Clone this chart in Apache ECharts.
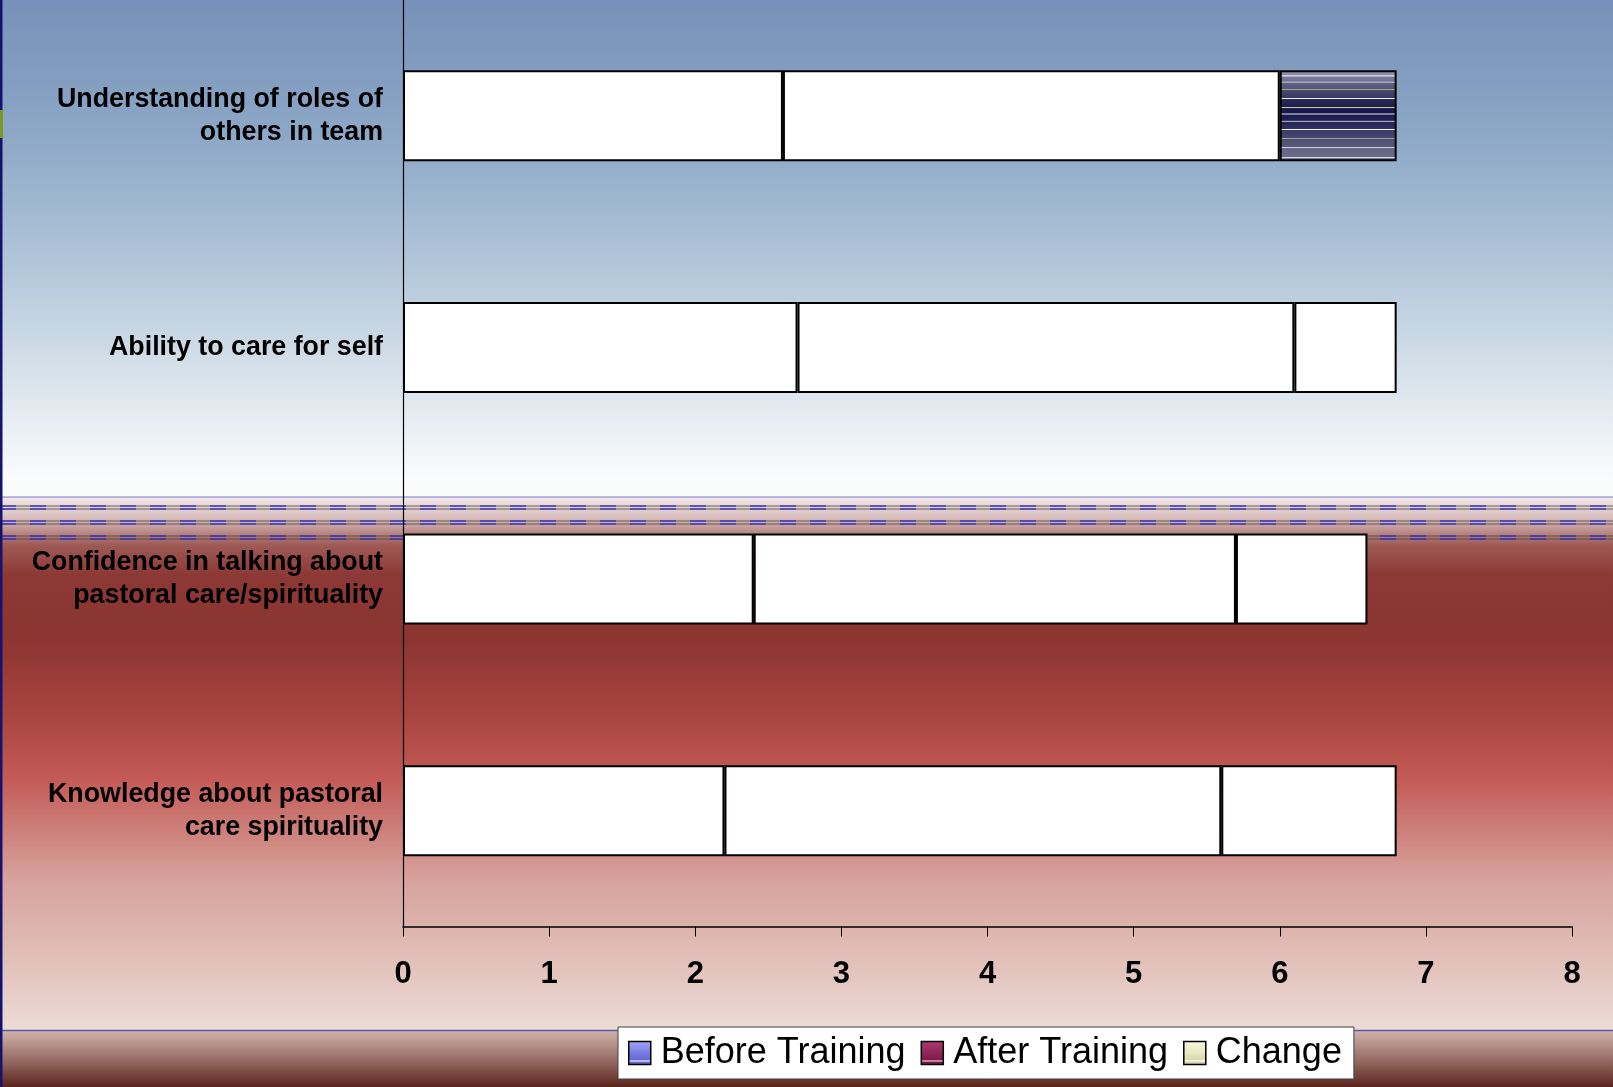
<!DOCTYPE html>
<html>
<head>
<meta charset="utf-8">
<title>Training outcomes</title>
<script src="https://cdn.jsdelivr.net/npm/echarts@6/dist/echarts.min.js"></script>
<style>
  html, body { margin: 0; padding: 0; background: #ffffff; }
  #chart { width: 1613px; height: 1087px; }
</style>
</head>
<body>
<div id="chart"></div>
<script>
// categories, top to bottom
const categories = [
  'Understanding of roles of\nothers in team',
  'Ability to care for self',
  'Confidence in talking about\npastoral care/spirituality',
  'Knowledge about pastoral\ncare spirituality'
];
// stacked segment lengths
const beforeTraining = [2.6, 2.7, 2.4, 2.2];
const afterTraining = [3.4, 3.4, 3.3, 3.4];
const change = [0.8, 0.7, 0.9, 1.2];
const seriesNames = ['Before Training', 'After Training', 'Change'];
const xTicks = [0, 1, 2, 3, 4, 5, 6, 7, 8];

const W = 1613, H = 1087;

const grad = (stops) => new echarts.graphic.LinearGradient(0, 0, 0, 1,
  stops.map(s => ({ offset: s[0], color: s[1] })));

// striped fill of the top "Change" block (rendering artefact in the source)
const stripeStops = [
  [0, '#9090ac'], [0.05, '#8a8aa6'], [0.06, '#e8e8f0'], [0.075, '#7a7a9a'],
  [0.12, '#6e6e90'], [0.13, '#d8d8e4'], [0.14, '#606082'], [0.2, '#565676'],
  [0.21, '#b0b088'], [0.22, '#4a4a6e'], [0.3, '#383862'], [0.31, '#f4f4f8'],
  [0.32, '#2a2a5a'], [0.4, '#1e1e52'], [0.41, '#e8e890'], [0.42, '#1a1a50'],
  [0.47, '#161648'], [0.48, '#ffffff'], [0.49, '#1a1a4e'], [0.55, '#202054'],
  [0.56, '#d0d0e0'], [0.57, '#26265a'], [0.64, '#303060'], [0.65, '#ffffff'],
  [0.66, '#3a3a66'], [0.74, '#46466e'], [0.75, '#a8a890'], [0.76, '#4e4e74'],
  [0.84, '#5a5a7c'], [0.85, '#e4e4ee'], [0.86, '#626282'], [0.95, '#6c6c8a'],
  [0.96, '#f0f0f6'], [0.97, '#747490'], [1, '#787894']
];

const changeData = change.map((v, i) => i === 0
  ? { value: v, itemStyle: { color: grad(stripeStops) } }
  : v);

const barStyle = { color: '#ffffff', borderColor: '#000000', borderWidth: 2 };

// dashed band lines across the middle of the backdrop
const bandLines = [506, 509, 521, 524, 536, 539];
const bandGraphics = [];
bandLines.forEach(y => {
  bandGraphics.push({
    type: 'line', z: -5, silent: true,
    shape: { x1: 0, y1: y, x2: W, y2: y },
    style: { stroke: 'rgba(60,60,60,0.75)', lineWidth: 1.2 }
  });
  bandGraphics.push({
    type: 'line', z: -4, silent: true,
    shape: { x1: 0, y1: y, x2: W, y2: y },
    style: { stroke: 'rgba(40,40,200,0.8)', lineWidth: 1.4, lineDash: [16, 14] }
  });
});

const chart = echarts.init(document.getElementById('chart'), null, { renderer: 'canvas' });

chart.setOption({
  animation: false,
  backgroundColor: '#ffffff',
  graphic: [
    { type: 'rect', z: -10, silent: true, shape: { x: 0, y: 0, width: W, height: 497 },
      style: { fill: grad([[0, '#7690b9'], [0.3, '#90aac8'], [0.55, '#b4c8db'],
        [0.8, '#dfe7ee'], [0.96, '#fafbfc'], [1, '#fbfbfc']]) } },
    { type: 'rect', z: -10, silent: true, shape: { x: 0, y: 497, width: W, height: 533 },
      style: { fill: grad([[0, '#f3e9e9'], [0.043, '#d4b8b6'], [0.09, '#9e5a56'],
        [0.147, '#8c3834'], [0.27, '#8c3531'], [0.42, '#ab4540'], [0.536, '#c45d58'],
        [0.71, '#d6a09a'], [0.9, '#e4c6c0'], [1, '#ecdcd6']]) } },
    { type: 'rect', z: -10, silent: true, shape: { x: 0, y: 1030, width: W, height: 57 },
      style: { fill: grad([[0, '#d0b4ac'], [0.5, '#9a7068'], [1, '#5a241c']]) } },
    { type: 'line', z: -5, silent: true, shape: { x1: 0, y1: 497, x2: W, y2: 497 },
      style: { stroke: 'rgba(40,40,190,0.6)', lineWidth: 1.2 } },
    { type: 'line', z: -5, silent: true, shape: { x1: 0, y1: 1030.5, x2: W, y2: 1030.5 },
      style: { stroke: '#5a5aa8', lineWidth: 1.5 } },
    ...bandGraphics,
    { type: 'rect', z: -3, silent: true, shape: { x: 0, y: 0, width: 2.5, height: H },
      style: { fill: '#14146e' } },
    { type: 'rect', z: -2, silent: true, shape: { x: 0, y: 110, width: 3, height: 28 },
      style: { fill: '#7c9a22' } }
  ],
  grid: { left: 403, right: 41, top: 0, bottom: 160.5 },
  xAxis: {
    type: 'value',
    min: xTicks[0],
    max: xTicks[xTicks.length - 1],
    interval: 1,
    axisLine: { show: true, lineStyle: { color: '#000000', width: 1.5 } },
    axisTick: { show: true, length: 10, lineStyle: { color: '#000000', width: 1 } },
    splitLine: { show: false },
    axisLabel: {
      color: '#000000',
      fontFamily: '"Liberation Sans", Arial, sans-serif',
      fontWeight: 'bold',
      fontSize: 31,
      margin: 32
    }
  },
  yAxis: {
    type: 'category',
    inverse: true,
    data: categories,
    axisLine: { show: true, lineStyle: { color: '#000000', width: 1.2 } },
    axisTick: { show: false },
    axisLabel: {
      color: '#000000',
      fontFamily: '"Liberation Sans", Arial, sans-serif',
      fontWeight: 'bold',
      fontSize: 26.8,
      lineHeight: 33,
      align: 'right',
      margin: 20,
      padding: [8, 0, 0, 0]
    }
  },
  legend: {
    left: 618,
    top: 1027,
    orient: 'horizontal',
    backgroundColor: '#ffffff',
    borderColor: '#404040',
    borderWidth: 1,
    padding: [2, 12, 2, 10],
    itemWidth: 22,
    itemHeight: 23,
    itemGap: 15,
    icon: 'rect',
    textStyle: {
      color: '#000000',
      fontFamily: '"Liberation Sans", Arial, sans-serif',
      fontSize: 36,
      lineHeight: 45,
      padding: [3, 0, 0, 5]
    },
    data: [
      { name: seriesNames[0], itemStyle: { borderColor: '#000', borderWidth: 1.5,
        color: grad([[0, '#a6aaf8'], [0.5, '#777be2'], [0.78, '#6468d0'], [0.82, '#eeeeff'],
          [0.88, '#6468d0'], [1, '#5a5ec4']]) } },
      { name: seriesNames[1], itemStyle: { borderColor: '#000', borderWidth: 1.5,
        color: grad([[0, '#b03a72'], [0.5, '#8e2656'], [0.78, '#7e1c4a'], [0.82, '#e8c0d0'],
          [0.88, '#7e1c4a'], [1, '#701640']]) } },
      { name: seriesNames[2], itemStyle: { borderColor: '#000', borderWidth: 1.5,
        color: grad([[0, '#fafae0'], [0.5, '#e8e8c0'], [0.78, '#d8d8ac'], [0.82, '#ffffff'],
          [0.88, '#d4d4a8'], [1, '#c8c89c']]) } }
    ]
  },
  series: [
    { name: seriesNames[0], type: 'bar', stack: 'total', barWidth: 91,
      itemStyle: barStyle, data: beforeTraining },
    { name: seriesNames[1], type: 'bar', stack: 'total', barWidth: 91,
      itemStyle: barStyle, data: afterTraining },
    { name: seriesNames[2], type: 'bar', stack: 'total', barWidth: 91,
      itemStyle: barStyle, data: changeData }
  ]
});
</script>
</body>
</html>
